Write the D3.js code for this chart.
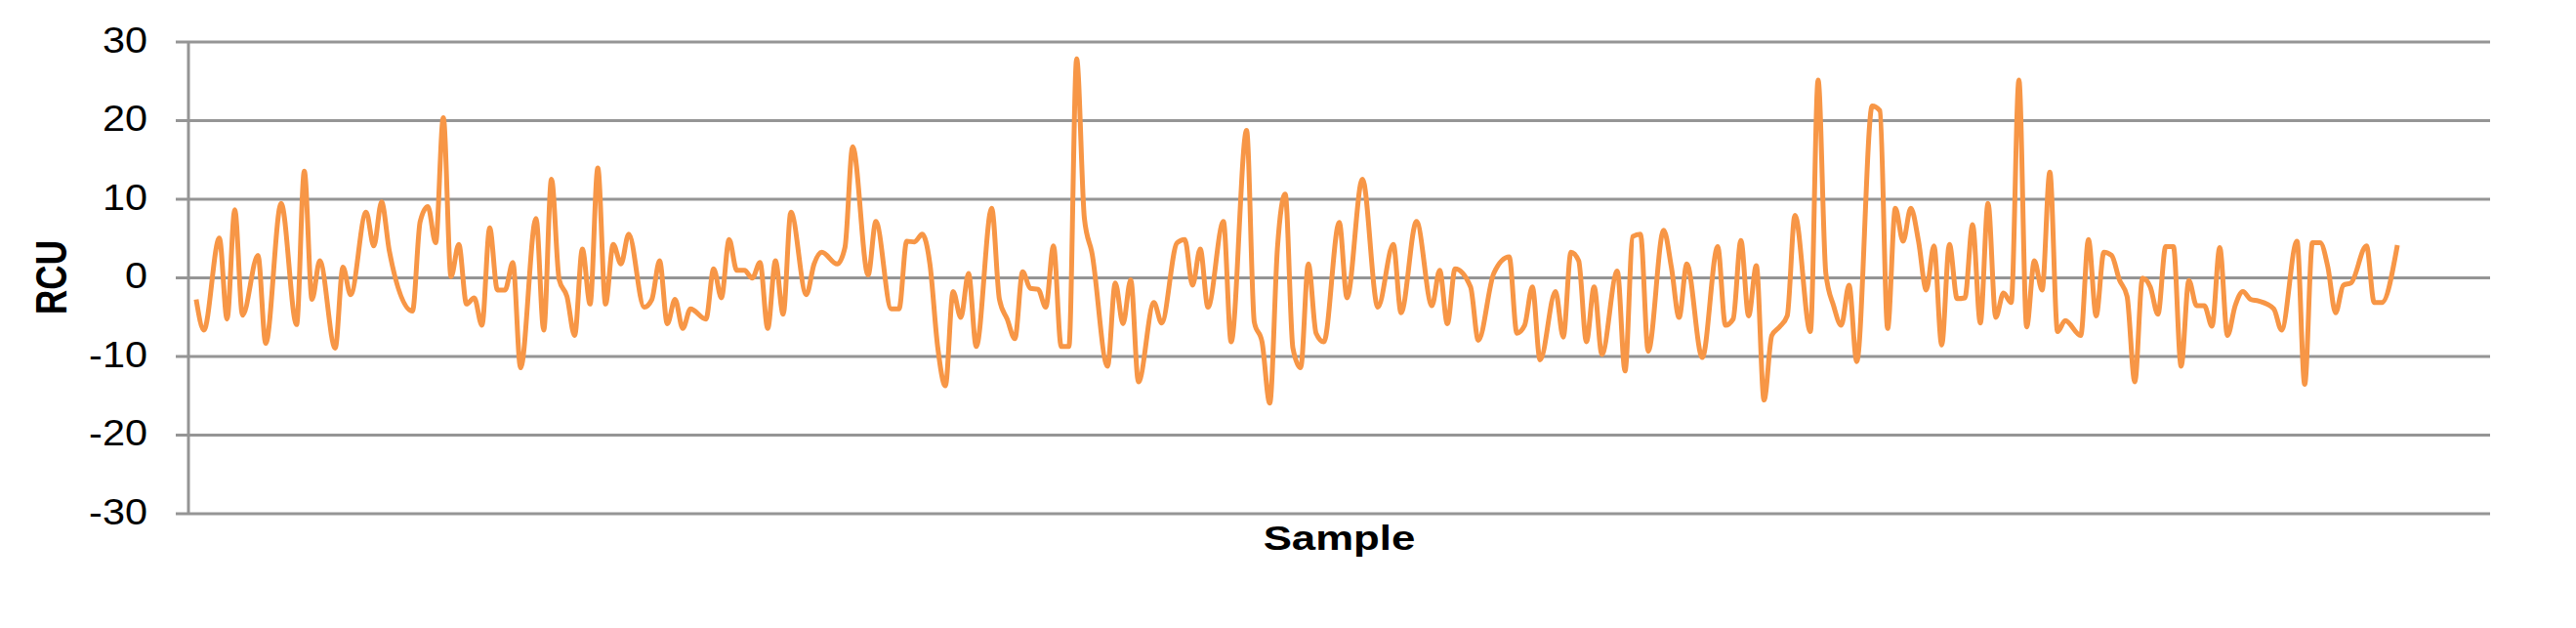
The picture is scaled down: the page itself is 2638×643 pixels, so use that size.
<!DOCTYPE html>
<html>
<head>
<meta charset="utf-8">
<script src="https://cdnjs.cloudflare.com/ajax/libs/d3/7.8.5/d3.min.js"></script>
<style>
  body { margin: 0; background: #fff; }
  svg { display: block; }
  text { font-family: "Liberation Sans", Arial, sans-serif; fill: #000; }
</style>
</head>
<body>
<svg id="chart" width="2638" height="643"></svg>
<script>
// sample numbers and RCU values
var samples = [0,1,3,4,5,6,8,9,11,13,14,15,16,18,19,20,22,23,24,25,28,29,30,31,32,33,34,35,36,37,38,39,40,41,42,44,45,46,47,48,49,50,51,52,53,54,55,56,58,59,60,61,62,63,64,66,67,68,69,70,71,72,73,74,75,76,77,79,80,81,83,84,85,87,88,90,91,92,93,94,95,96,97,98,99,100,101,103,104,105,106,107,108,109,110,111,112,113,114,115,116,118,119,120,121,122,124,125,127,128,129,130,131,133,134,136,137,138,139,140,141,142,143,144,145,146,148,149,151,153,155,156,158,160,161,162,163,165,166,168,170,171,172,173,174,176,177,178,179,180,181,182,184,185,186,187,188,190,191,192,193,195,197,198,199,200,201,202,203,204,205,206,207,209,210,211,212,213,214,215,217,218,219,220,221,222,223,224,225,226,227,228,229,230,231,232,233,234,235,236,237,238,239,240,241,242,244,245,246,247,248,249,250,251,252,253,254,255,256,257,258,259,260,261,262,263,264,265,266,267,269,270,272,273,274,275,276,277,278,279,281,282,283,285];
var rcu = [-2.8,-6.7,5.0,-5.3,8.6,-4.8,2.8,-8.4,9.4,-6.0,13.5,-2.8,2.1,-9.0,1.3,-2.2,8.3,4.0,9.6,3.4,-4.3,7.1,9.0,4.4,20.3,0.1,4.2,-3.4,-2.6,-6.1,6.3,-1.6,-1.6,1.9,-11.5,7.5,-6.7,12.5,-0.3,-2.4,-7.4,3.6,-3.4,13.9,-3.4,4.2,1.7,5.5,-3.8,-2.8,2.1,-5.9,-2.8,-6.5,-4.0,-5.3,1.1,-2.6,4.8,0.9,0.9,-0.1,1.9,-6.5,2.1,-4.7,8.3,-2.2,1.7,3.2,1.7,3.8,16.6,0.3,7.1,-4.0,-4.0,4.6,4.5,5.5,1.7,-8.8,-13.8,-1.8,-5.1,0.5,-8.8,8.8,-2.8,-5.3,-7.8,0.7,-1.4,-1.5,-3.8,4.0,-8.8,-8.8,27.8,7.5,3.0,-11.3,-0.7,-5.9,-0.3,-13.3,-3.2,-5.8,4.4,4.8,-1.0,3.6,-3.8,7.1,-8.2,18.7,-5.7,-8.2,-16.0,3.8,10.6,-9.0,-11.5,1.7,-7.1,-8.2,7.0,-2.6,12.5,-3.8,4.2,-4.5,7.1,-3.6,0.9,-5.9,1.1,-1.2,-8.0,0.5,2.6,-7.1,-6.1,-1.2,-10.5,-1.8,-7.6,3.2,2.1,-8.2,-1.2,-9.8,0.8,-11.9,5.2,5.5,-9.4,6.0,1.3,-5.1,1.7,-10.2,3.9,-6.1,-5.3,4.7,-4.9,1.5,-15.6,-7.4,-6.3,-4.9,7.9,-6.9,25.1,0.5,-3.6,-6.1,-1.0,-10.7,21.8,21.2,-6.5,8.8,4.6,8.8,4.6,-1.6,4.0,-8.6,4.2,-2.7,-2.6,6.7,-5.8,9.4,-5.1,-2.0,-3.2,25.1,-6.3,2.1,-1.6,13.4,-6.9,-5.5,-7.4,4.8,-4.9,3.2,2.8,-0.3,-2.4,-13.3,-0.1,-1.2,-4.7,3.9,3.9,-11.3,-0.4,-3.6,-3.6,-6.2,3.8,-7.4,-3.6,-1.8,-2.8,-3.0,-4.0,-6.7,4.6,-13.6,4.4,4.4,1.3,-4.5,-1.0,-0.7,4.0,-3.2,-3.2,4.1];
var yTicks = [30, 20, 10, 0, -10, -20, -30];
var xTitle = "Sample";
var yTitle = "RCU";

// plot area (note: "top" is taken by window.top)
var plotLeft = 193, plotRight = 2550, plotTop = 42.5, plotBottom = 525.5;
var labelRight = 151;
var labelStretch = 1.12;   // the picture is stretched sideways, text too
var titleStretch = 1.25;
var gridColor = "#959595";
var lineColor = "#f79646";

var svg = d3.select("#chart");

var xScale = d3.scaleLinear()
               .domain([-1, 297])
               .range([plotLeft, plotRight]);

var yScale = d3.scaleLinear()
               .domain([-30, 30])
               .range([plotBottom, plotTop]);

// gridlines (with short outside ticks)
var yAxis = d3.axisLeft(yScale)
              .tickValues(yTicks)
              .tickSize(-(plotRight - plotLeft))
              .tickFormat("");

var gy = svg.append("g")
            .attr("transform", "translate(" + plotLeft + ",0)")
            .call(yAxis);

gy.select(".domain").remove();
gy.selectAll(".tick line")
  .attr("x1", -13)
  .attr("stroke", gridColor)
  .attr("stroke-width", 3);

// tick labels, hyphen as minus sign
svg.append("g")
   .selectAll("text")
   .data(yTicks)
   .enter()
   .append("text")
   .attr("transform", function(d){
       return "translate(" + labelRight + "," + yScale(d) + ") scale(" + labelStretch + ",1)";
   })
   .attr("dy", "0.3em")
   .attr("text-anchor", "end")
   .style("font-size", "37px")
   .text(function(d){ return String(d); });

// left axis line
svg.append("line")
   .attr("x1", plotLeft).attr("x2", plotLeft)
   .attr("y1", plotTop).attr("y2", plotBottom)
   .attr("stroke", gridColor)
   .attr("stroke-width", 3);

// data line
var line = d3.line()
             .x(function(d){ return xScale(d[0]); })
             .y(function(d){ return yScale(d[1]); })
             .curve(d3.curveMonotoneX);

svg.append("path")
   .datum(d3.zip(samples, rcu))
   .attr("d", line)
   .attr("fill", "none")
   .attr("stroke", lineColor)
   .attr("stroke-width", 5)
   .attr("stroke-linejoin", "round");

// axis titles
svg.append("text")
   .attr("transform", "translate(" + ((plotLeft + plotRight) / 2) + ",563) scale(" + titleStretch + ",1)")
   .attr("text-anchor", "middle")
   .style("font-size", "35px")
   .style("font-weight", "bold")
   .text(xTitle);

svg.append("text")
   .attr("transform", "translate(68," + ((plotTop + plotBottom) / 2) + ") scale(" + titleStretch + ",1) rotate(-90)")
   .attr("text-anchor", "middle")
   .style("font-size", "35px")
   .style("font-weight", "bold")
   .text(yTitle);
</script>
</body>
</html>
